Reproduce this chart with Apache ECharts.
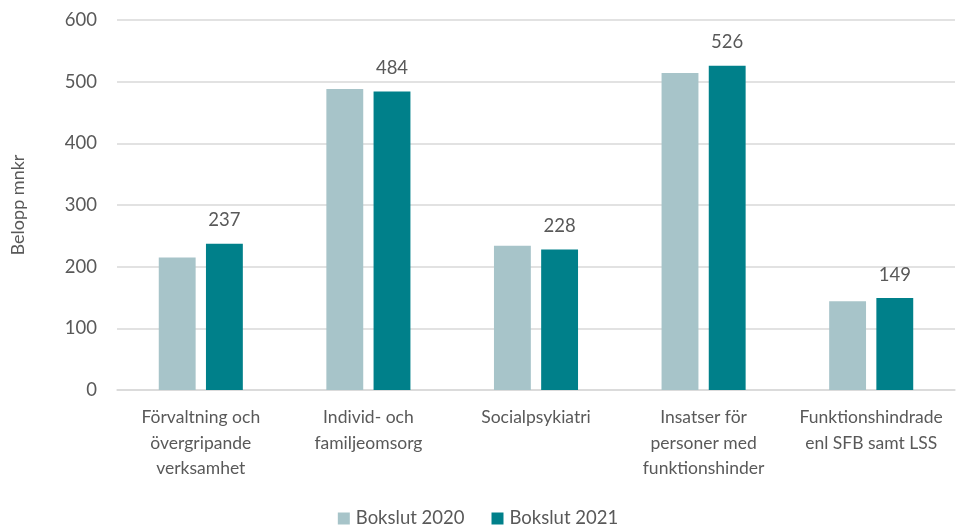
<!DOCTYPE html>
<html>
<head>
<meta charset="utf-8">
<script src="https://cdn.jsdelivr.net/npm/echarts@6/dist/echarts.min.js"></script>
<style>
  html, body { margin: 0; padding: 0; background: #fff; }
  #chart { width: 956px; height: 530px; }
</style>
</head>
<body>
<div id="chart"></div>
<script>
// kategorier och värden (mnkr)
const categories = [
  'Förvaltning och\növergripande\nverksamhet',
  'Individ- och\nfamiljeomsorg',
  'Socialpsykiatri',
  'Insatser för\npersoner med\nfunktionshinder',
  'Funktionshindrade\nenl SFB samt LSS'
];
const bokslut2020 = [215, 488, 234, 514, 144];
const bokslut2021 = [237, 484, 228, 526, 149];
const yTicks = [0, 100, 200, 300, 400, 500, 600];

const textColor = '#595959';
const font = 'Lato, "Open Sans", sans-serif';

const chart = echarts.init(document.getElementById('chart'));
chart.setOption({
  animation: false,
  textStyle: { fontFamily: font },
  grid: { left: 117, right: 1, top: 20, bottom: 140, containLabel: false, outerBoundsMode: 'none' },
  legend: {
    bottom: -3,
    left: 'center',
    itemWidth: 12,
    itemHeight: 12,
    itemGap: 27,
    icon: 'rect',
    textStyle: { fontSize: 18.5, color: textColor, fontFamily: font, padding: [0, 0, 0, 1] },
    data: ['Bokslut 2020', 'Bokslut 2021']
  },
  xAxis: {
    type: 'category',
    data: categories,
    axisTick: { show: false },
    axisLine: { lineStyle: { color: '#d9d9d9', width: 1.5 } },
    axisLabel: { color: textColor, fontSize: 17.5, lineHeight: 25.5, margin: 15, interval: 0 }
  },
  yAxis: {
    type: 'value',
    min: yTicks[0],
    max: yTicks[yTicks.length - 1],
    interval: 100,
    name: 'Belopp mnkr',
    nameLocation: 'middle',
    nameGap: 90,
    nameRotate: 90,
    nameTextStyle: { color: textColor, fontSize: 18, fontFamily: font },
    axisLabel: { color: textColor, fontSize: 18.5, margin: 20 },
    splitLine: { lineStyle: { color: '#d9d9d9', width: 1.5 } }
  },
  series: [
    {
      name: 'Bokslut 2020',
      type: 'bar',
      data: bokslut2020,
      barWidth: '22%',
      barGap: '28%',
      itemStyle: { color: '#a7c4c9' }
    },
    {
      name: 'Bokslut 2021',
      type: 'bar',
      data: bokslut2021,
      barWidth: '22%',
      itemStyle: { color: '#00808a' },
      label: {
        show: true,
        position: 'top',
        distance: 14,
        color: textColor,
        fontSize: 18.5,
        fontFamily: font
      }
    }
  ]
});
</script>
</body>
</html>
